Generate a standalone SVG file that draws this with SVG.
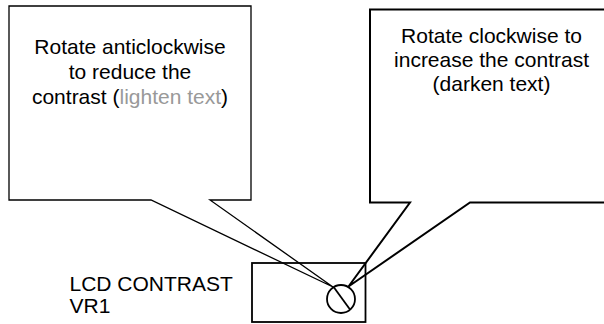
<svg xmlns="http://www.w3.org/2000/svg" width="604" height="324" viewBox="0 0 604 324">
<style>
.t{font-family:"Liberation Sans",Arial,sans-serif;font-size:21px;fill:#000}
.c{text-anchor:middle}
.grey{fill:#999}
.shape{fill:#fff;stroke:#000;stroke-linejoin:miter}
</style>
<rect width="604" height="324" fill="#fff"/>
<g id="callout-left">
<polygon class="shape" stroke-width="1.3" points="9,6 251,6 251,200 210,200 333,287 151,200 9,200"/>
<text class="t c" x="130" y="54.3">Rotate anticlockwise</text>
<text class="t c" x="130" y="79">to reduce the</text>
<text class="t c" x="130" y="103.5">contrast (<tspan class="grey">lighten text</tspan>)</text>
</g>
<g id="callout-right">
<polygon class="shape" stroke-width="2" points="370,9.5 615,9.5 615,202.5 470,202.5 348.5,286.5 410,202.5 370,202.5"/>
<text class="t c" x="491.5" y="42.7">Rotate clockwise to</text>
<text class="t c" x="491.5" y="66.6">increase the contrast</text>
<text class="t c" x="491.5" y="90.5">(darken text)</text>
</g>
<g id="lcd-label">
<text class="t" x="69.5" y="290.5">LCD CONTRAST</text>
<text class="t" x="69.5" y="312.5">VR1</text>
</g>
<g id="vr1">
<rect x="252" y="263" width="113.5" height="59" fill="none" stroke="#000" stroke-width="1.8"/>
<circle cx="341" cy="299" r="14" fill="none" stroke="#000" stroke-width="1.8"/>
<line x1="334" y1="287.5" x2="350" y2="309.5" stroke="#000" stroke-width="1.8"/>
</g>
<g id="connectors"></g>
</svg>
